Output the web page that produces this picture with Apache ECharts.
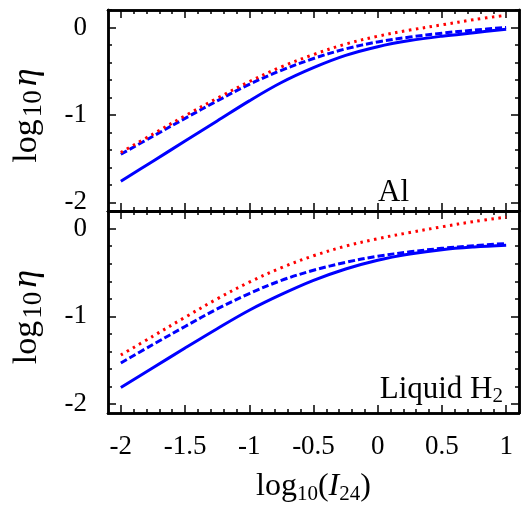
<!DOCTYPE html>
<html>
<head>
<meta charset="utf-8">
<script src="https://cdn.jsdelivr.net/npm/echarts@6/dist/echarts.min.js"></script>
<style>
  html, body { margin: 0; padding: 0; background: #fff; }
  #chart { width: 530px; height: 509px; }
</style>
</head>
<body>
<div id="chart"></div>
<script>
// log10(I24) sample points
const logI = [-2, -1.75, -1.5, -1.25, -1, -0.75, -0.5, -0.25, 0, 0.25, 0.5, 0.75, 1];

// Al panel
const alSolid  = [-1.76, -1.53, -1.30, -1.07, -0.84, -0.63, -0.46, -0.32, -0.22, -0.15, -0.10, -0.06, -0.02];
const alDashed = [-1.45, -1.245, -1.04, -0.84, -0.65, -0.49, -0.355, -0.245, -0.165, -0.11, -0.065, -0.03, 0.0];
const alDotted = [-1.43, -1.22, -1.01, -0.81, -0.62, -0.45, -0.31, -0.19, -0.10, -0.03, 0.03, 0.09, 0.14];

// Liquid H2 panel
const h2Solid  = [-1.81, -1.585, -1.36, -1.14, -0.93, -0.75, -0.59, -0.46, -0.36, -0.29, -0.24, -0.21, -0.19];
const h2Dashed = [-1.53, -1.32, -1.115, -0.915, -0.74, -0.59, -0.475, -0.385, -0.315, -0.265, -0.225, -0.195, -0.17];
const h2Dotted = [-1.44, -1.225, -1.01, -0.80, -0.61, -0.445, -0.31, -0.20, -0.115, -0.045, 0.02, 0.08, 0.13];

// ticks
const xTicks = [-2, -1.5, -1, -0.5, 0, 0.5, 1];
const yTicks = [-2, -1, 0];
const xMinor = [];
for (let v = -20; v <= 10; v++) if (v % 5) xMinor.push(v / 10);
const yMinor = [];
for (let v = -10; v <= 1; v++) if (v % 5) yMinor.push(v / 5);

const serif = "Liberation Serif";
const richX = {
  a: { fontFamily: serif, fontSize: 32, lineHeight: 36, color: '#000' },
  i: { fontFamily: serif, fontSize: 32, lineHeight: 36, fontStyle: 'italic', color: '#000' },
  s: { fontFamily: serif, fontSize: 21, lineHeight: 21, verticalAlign: 'bottom', color: '#000' }
};
const richY = {
  a: { fontFamily: serif, fontSize: 34, lineHeight: 40, color: '#000' },
  i: { fontFamily: serif, fontSize: 36, lineHeight: 40, fontStyle: 'italic', color: '#000', padding: [0, 0, 0, 4] },
  s: { fontFamily: serif, fontSize: 27, lineHeight: 27, verticalAlign: 'bottom', color: '#000', padding: [0, 0, 0, 2] }
};

const pair = (ys) => logI.map((x, i) => [x, ys[i]]);

function axis(dim, g, pos, ticks, len, extra) {
  const isX = dim === 'x';
  return Object.assign({
    type: 'value',
    gridIndex: g,
    position: pos,
    min: -2.1,
    max: isX ? 1.1 : 0.2,
    axisLine: { show: true, onZero: false, lineStyle: { color: '#000', width: 2.5 } },
    axisTick: { show: true, inside: true, length: len, customValues: ticks,
      lineStyle: { color: '#000', width: 1.5 } },
    axisLabel: { show: false },
    splitLine: { show: false }
  }, extra || {});
}

const xAxes = [];
const yAxes = [];
[0, 1].forEach((g) => {
  const xLab = g === 1 ? {
    axisLabel: { show: true, customValues: xTicks, margin: 20,
      fontFamily: serif, fontSize: 27, color: '#000' },
    name: '{a|log}{s|10}{a|(}{i|I}{s|24}{a|)}',
    nameLocation: 'middle',
    nameGap: 56,
    nameTextStyle: { rich: richX }
  } : {};
  xAxes.push(axis('x', g, 'bottom', xTicks, 8, xLab));
  xAxes.push(axis('x', g, 'bottom', xMinor, 4));
  xAxes.push(axis('x', g, 'top', xTicks, 8));
  xAxes.push(axis('x', g, 'top', xMinor, 4));

  yAxes.push(axis('y', g, 'left', yTicks, 8, {
    axisLabel: { show: true, customValues: yTicks, margin: 21,
      fontFamily: serif, fontSize: 27, color: '#000' },
    name: '{a|log}{s|10}{i|η}',
    nameLocation: 'middle',
    nameRotate: 90,
    nameGap: 61,
    nameTextStyle: { rich: richY, padding: [0, 10, 0, 0] }
  }));
  yAxes.push(axis('y', g, 'left', yMinor, 4));
  yAxes.push(axis('y', g, 'right', yTicks, 8));
  yAxes.push(axis('y', g, 'right', yMinor, 4));
});

function trio(g, solid, dashed, dotted) {
  const base = { type: 'line', xAxisIndex: g * 4, yAxisIndex: g * 4, symbol: 'none',
    smooth: 0.35, silent: true };
  return [
    Object.assign({ data: pair(solid), lineStyle: { color: '#0000ff', width: 3 } }, base),
    Object.assign({ data: pair(dashed), lineStyle: { color: '#0000ff', width: 3, type: [7, 3] } }, base),
    Object.assign({ data: pair(dotted), lineStyle: { color: '#ff0000', width: 3, type: [2.5, 4.5] } }, base)
  ];
}

const chart = echarts.init(document.getElementById('chart'));
chart.setOption({
  animation: false,
  backgroundColor: '#fff',
  grid: [
    { left: 108, top: 10, width: 411, height: 201 },
    { left: 108, top: 211, width: 411, height: 202 }
  ],
  xAxis: xAxes,
  yAxis: yAxes,
  series: trio(0, alSolid, alDashed, alDotted).concat(trio(1, h2Solid, h2Dashed, h2Dotted)),
  graphic: [
    { type: 'text', left: 378, top: 177,
      style: { text: 'Al', font: '31px ' + serif, fill: '#000' } },
    { type: 'text', right: 27, top: 374,
      style: { text: '{a|Liquid H}{s|2}', fill: '#000',
        rich: {
          a: { fontFamily: serif, fontSize: 31, lineHeight: 34, fill: '#000' },
          s: { fontFamily: serif, fontSize: 21, lineHeight: 20, verticalAlign: 'bottom', fill: '#000' }
        } } }
  ]
});
</script>
</body>
</html>
